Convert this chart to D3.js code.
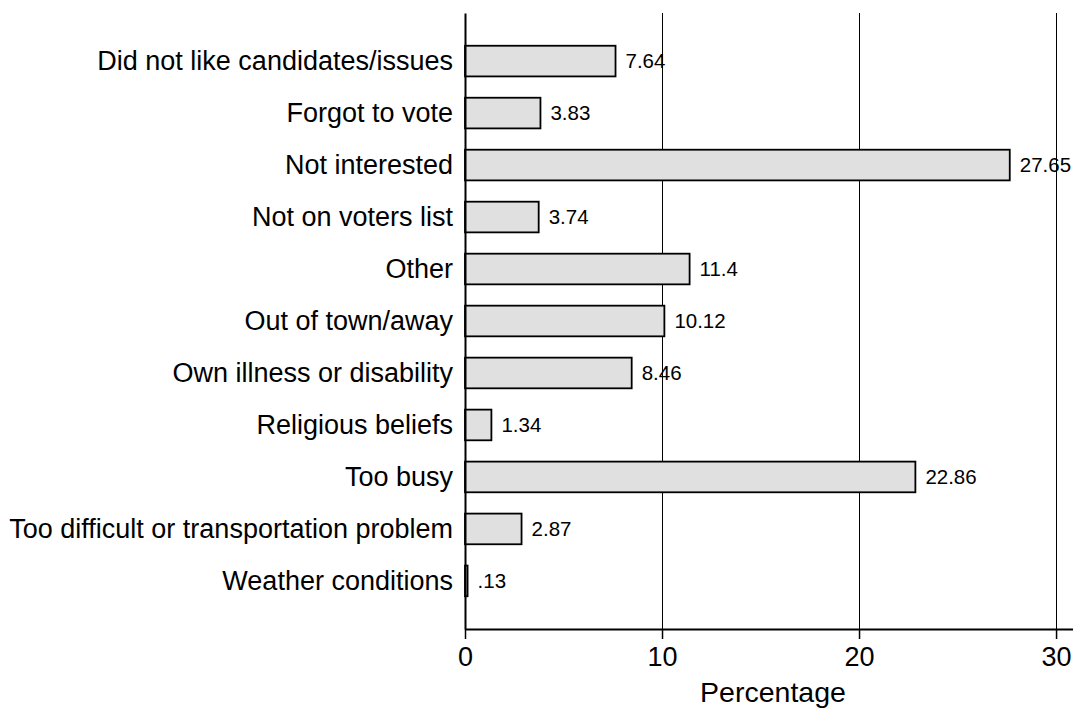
<!DOCTYPE html>
<html>
<head>
<meta charset="utf-8">
<script src="https://cdn.jsdelivr.net/npm/d3@7"></script>
<style>
  body { margin: 0; background: #fff; }
  svg { display: block; font-family: "Liberation Sans", Arial, sans-serif; }
</style>
</head>
<body>
<div id="viz"></div>
<script>
'use strict';

// reasons for not voting
var reasons = [
    'Did not like candidates/issues',
    'Forgot to vote',
    'Not interested',
    'Not on voters list',
    'Other',
    'Out of town/away',
    'Own illness or disability',
    'Religious beliefs',
    'Too busy',
    'Too difficult or transportation problem',
    'Weather conditions'
];
var percents = [7.64, 3.83, 27.65, 3.74, 11.4, 10.12, 8.46, 1.34, 22.86, 2.87, .13];
var valueLabels = ['7.64', '3.83', '27.65', '3.74', '11.4', '10.12', '8.46', '1.34', '22.86', '2.87', '.13'];
var xTicks = [0, 10, 20, 30];

var width = 1073,
    height = 709;
var plotLeft = 465,
    plotRight = 1073,
    plotTop = 13,
    plotBottom = 629;

var svg = d3.select('#viz').append('svg')
    .attr('width', width)
    .attr('height', height);

var x = d3.scaleLinear()
    .domain([0, 30.86])
    .range([plotLeft, plotRight]);

var y = d3.scaleBand()
    .domain(reasons)
    .range([plotTop, plotBottom])
    .paddingInner(0.41)
    .paddingOuter(0.63);

// gridlines
svg.append('g')
    .selectAll('line')
    .data(xTicks.filter(d => d > 0))
    .enter().append('line')
    .attr('x1', d => Math.round(x(d)) + 0.5)
    .attr('x2', d => Math.round(x(d)) + 0.5)
    .attr('y1', plotTop)
    .attr('y2', plotBottom)
    .attr('stroke', '#000')
    .attr('stroke-width', 1);

// bars
svg.append('g')
    .selectAll('rect')
    .data(percents)
    .enter().append('rect')
    .attr('x', x(0))
    .attr('y', (d, i) => y(reasons[i]))
    .attr('width', d => x(d) - x(0))
    .attr('height', y.bandwidth())
    .attr('fill', '#e0e0e0')
    .attr('stroke', '#000')
    .attr('stroke-width', 1.8);

// value labels
svg.append('g')
    .selectAll('text')
    .data(percents)
    .enter().append('text')
    .attr('x', d => x(d) + 10)
    .attr('y', (d, i) => y(reasons[i]) + y.bandwidth() / 2)
    .attr('dy', '0.36em')
    .style('font-size', '20.5px')
    .text((d, i) => valueLabels[i]);

// y axis
var yAxis = svg.append('g')
    .attr('transform', 'translate(' + plotLeft + ',0)')
    .call(d3.axisLeft(y).tickSize(0).tickPadding(12));
yAxis.select('.domain').attr('stroke', '#000').attr('stroke-width', 2);
yAxis.selectAll('text').style('font-size', '27px').attr('fill', '#000');

// x axis
var xAxis = svg.append('g')
    .attr('transform', 'translate(0,' + plotBottom + ')')
    .call(d3.axisBottom(x).tickValues(xTicks).tickSize(10).tickPadding(8).tickSizeOuter(0));
xAxis.select('.domain').attr('stroke', '#000').attr('stroke-width', 2);
xAxis.selectAll('.tick line').attr('stroke', '#000').attr('stroke-width', 1.5);
xAxis.selectAll('text').style('font-size', '27px').attr('fill', '#000');

svg.append('text')
    .attr('x', 773)
    .attr('y', 702)
    .attr('text-anchor', 'middle')
    .style('font-size', '28.5px')
    .text('Percentage');
</script>
</body>
</html>
